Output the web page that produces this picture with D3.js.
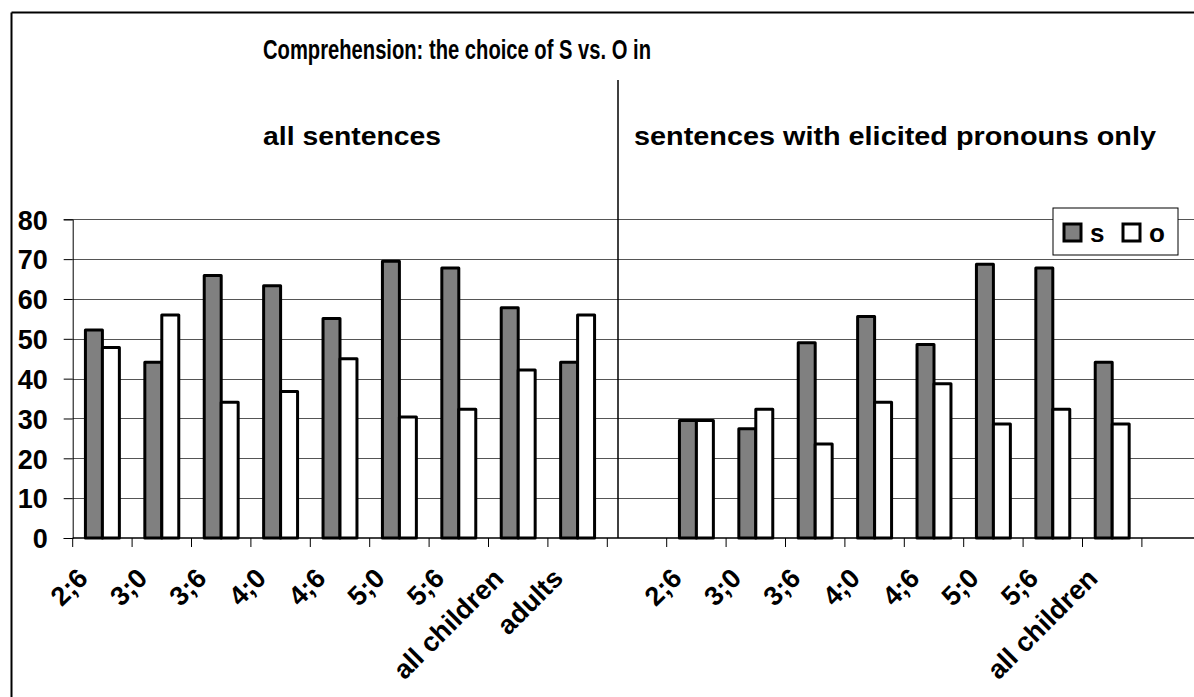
<!DOCTYPE html>
<html>
<head>
<meta charset="utf-8">
<script src="https://cdn.jsdelivr.net/npm/d3@7"></script>
<style>
    html, body { margin: 0; padding: 0; background: #fff; }
    svg { display: block; }
    text { font-family: "Liberation Sans", Arial, sans-serif; font-weight: bold; fill: #000; }
</style>
</head>
<body>
<svg id="svg" width="1194" height="697"></svg>
<script>
    // data
    var leftCats = ["2;6", "3;0", "3;6", "4;0", "4;6", "5;0", "5;6", "all children", "adults"];
    var rightCats = ["2;6", "3;0", "3;6", "4;0", "4;6", "5;0", "5;6", "all children"];
    var sLeft = [52.2, 44.1, 65.9, 63.3, 55.1, 69.5, 67.8, 57.8, 44.1];
    var oLeft = [47.8, 56.0, 34.1, 36.8, 45.0, 30.4, 32.3, 42.2, 56.0];
    var sRight = [29.5, 27.4, 49.0, 55.6, 48.6, 68.7, 67.8, 44.1];
    var oRight = [29.5, 32.3, 23.6, 34.1, 38.7, 28.6, 32.3, 28.6];
    var series = ["s", "o"];
    var yTicks = [0, 10, 20, 30, 40, 50, 60, 70, 80];

    var colors = { s: "#808080", o: "#ffffff" };

    // one row per category slot, blank slot between the halves and at the end
    var rows = [];
    leftCats.forEach(function (c, i) { rows.push({ id: "L" + i, label: c, s: sLeft[i], o: oLeft[i] }); });
    rows.push({ id: "gap1", label: "" });
    rightCats.forEach(function (c, i) { rows.push({ id: "R" + i, label: c, s: sRight[i], o: oRight[i] }); });
    rows.push({ id: "gap2", label: "" });

    var svg = d3.select("#svg");

    var left = 72.7, step = 59.4;
    var x = d3.scaleBand()
        .domain(rows.map(function (d) { return d.id; }))
        .range([left, left + step * rows.length])
        .padding(0);
    var xs = d3.scaleBand().domain(series).range([0, x.bandwidth()]).paddingInner(0).paddingOuter(0.75);
    var y = d3.scaleLinear().domain([0, 80]).range([538, 219.3]);

    // outer frame (cut off at right and bottom)
    svg.append("line").attr("x1", 11.5).attr("x2", 11.5).attr("y1", 12.5).attr("y2", 697)
        .attr("stroke", "#000").attr("stroke-width", 2);
    svg.append("line").attr("x1", 11.5).attr("x2", 1194).attr("y1", 12.5).attr("y2", 12.5)
        .attr("stroke", "#000").attr("stroke-width", 2);

    // gridlines
    svg.append("g").selectAll("line")
        .data(yTicks.filter(function (t) { return t > 0; }))
        .enter().append("line")
        .attr("x1", left).attr("x2", 1194)
        .attr("y1", function (d) { return Math.round(y(d)) + 0.5; })
        .attr("y2", function (d) { return Math.round(y(d)) + 0.5; })
        .attr("stroke", "#555").attr("stroke-width", 1.2);

    // y axis
    var yAxis = svg.append("g")
        .attr("transform", "translate(" + left + ",0)")
        .call(d3.axisLeft(y).tickValues(yTicks).tickSize(9).tickPadding(16));
    yAxis.select(".domain").attr("stroke", "#000").attr("stroke-width", 1);
    yAxis.selectAll(".tick line").attr("stroke", "#000");
    yAxis.selectAll("text").attr("font-size", 27).attr("font-family", null).attr("dy", "0.36em");

    // x axis with ticks at slot boundaries
    var xAxisY = 538;
    svg.append("line").attr("x1", left).attr("x2", 1194).attr("y1", xAxisY).attr("y2", xAxisY)
        .attr("stroke", "#000").attr("stroke-width", 1.5);
    svg.append("g").selectAll("line")
        .data(rows)
        .enter().append("line")
        .attr("x1", function (d) { return x(d.id); })
        .attr("x2", function (d) { return x(d.id); })
        .attr("y1", xAxisY).attr("y2", xAxisY + 9)
        .attr("stroke", "#000").attr("stroke-width", 1);

    // bars
    var groups = svg.append("g").selectAll("g")
        .data(rows.filter(function (d) { return d.s !== undefined; }))
        .enter().append("g")
        .attr("transform", function (d) { return "translate(" + x(d.id) + ",0)"; });
    groups.selectAll("rect")
        .data(function (d) { return series.map(function (k) { return { key: k, value: d[k] }; }); })
        .enter().append("rect")
        .attr("x", function (d) { return xs(d.key); })
        .attr("width", xs.bandwidth())
        .attr("y", function (d) { return y(d.value); })
        .attr("height", function (d) { return y(0) - y(d.value); })
        .attr("fill", function (d) { return colors[d.key]; })
        .attr("stroke", "#000").attr("stroke-width", 3)
        .attr("stroke-linejoin", "round");

    // category labels, rotated
    svg.append("g").selectAll("text")
        .data(rows.filter(function (d) { return d.label; }))
        .enter().append("text")
        .attr("font-size", 27)
        .attr("text-anchor", "end")
        .attr("transform", function (d) {
            var cx = x(d.id) + x.bandwidth() / 2 - 13;
            return "translate(" + cx + ",580) rotate(-45)";
        })
        .text(function (d) { return d.label; });

    // divider between the halves
    svg.append("line").attr("x1", 618).attr("x2", 618).attr("y1", 80).attr("y2", 538)
        .attr("stroke", "#000").attr("stroke-width", 1.5);

    // titles
    svg.append("text").attr("x", 263).attr("y", 59).attr("font-size", 27)
        .attr("textLength", 388).attr("lengthAdjust", "spacingAndGlyphs")
        .text("Comprehension: the choice of S vs. O in");
    svg.append("text").attr("x", 263).attr("y", 145).attr("font-size", 26)
        .attr("textLength", 178).attr("lengthAdjust", "spacingAndGlyphs")
        .text("all sentences");
    svg.append("text").attr("x", 634).attr("y", 145).attr("font-size", 26)
        .attr("textLength", 522).attr("lengthAdjust", "spacingAndGlyphs")
        .text("sentences with elicited pronouns only");

    // legend
    var lg = svg.append("g").attr("transform", "translate(1053,208)");
    lg.append("rect").attr("width", 125).attr("height", 47)
        .attr("fill", "#fff").attr("stroke", "#000").attr("stroke-width", 1);
    series.forEach(function (k, i) {
        var ox = 11 + i * 59;
        lg.append("rect").attr("x", ox).attr("y", 16).attr("width", 17).attr("height", 17)
            .attr("fill", colors[k]).attr("stroke", "#000").attr("stroke-width", 3);
        lg.append("text").attr("x", ox + 26).attr("y", 34).attr("font-size", 26).text(k);
    });
</script>
</body>
</html>
